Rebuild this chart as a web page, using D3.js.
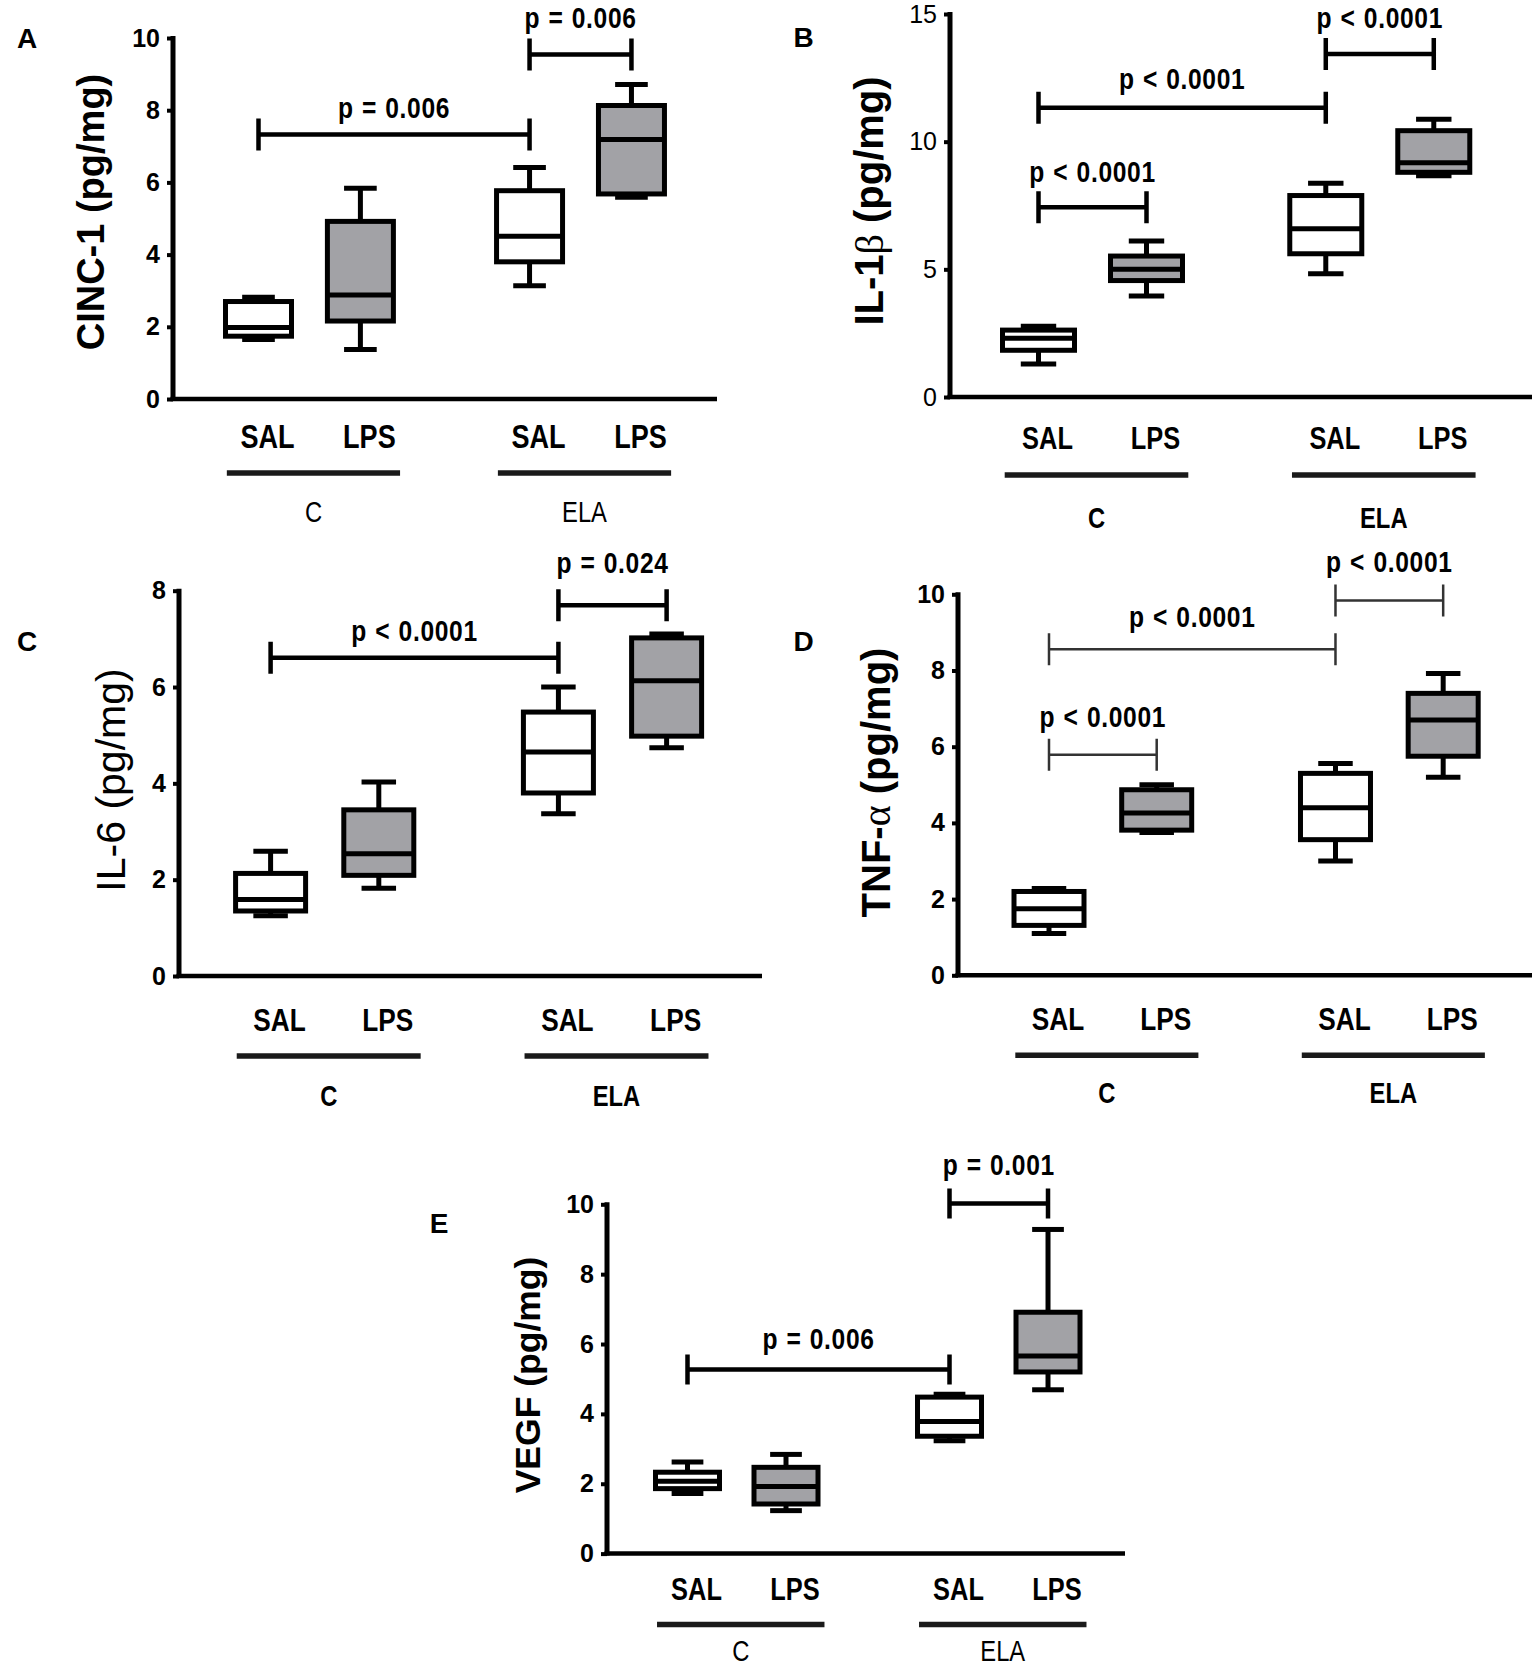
<!DOCTYPE html>
<html>
<head>
<meta charset="utf-8">
<script src="https://cdn.jsdelivr.net/npm/d3@7"></script>
<style>
  body { margin: 0; background: #fff; }
  svg { display: block; background: #fff; }
</style>
</head>
<body>
<div id="fig"></div>
<script>
// five-number summaries per group: [min, q1, median, q3, max]
var treatments = ["SAL", "LPS", "SAL", "LPS"];
var groupNames = ["C", "ELA"];

var cinc1 = [[1.65, 1.74, 1.98, 2.70, 2.82], [1.37, 2.16, 2.88, 4.92, 5.84],
             [3.14, 3.80, 4.51, 5.77, 6.41], [5.59, 5.68, 7.19, 8.13, 8.71]];
var il1b  = [[1.29, 1.83, 2.30, 2.62, 2.77], [3.96, 4.56, 5.00, 5.52, 6.11],
             [4.83, 5.61, 6.59, 7.89, 8.37], [8.67, 8.80, 9.17, 10.43, 10.88]];
var il6   = [[1.25, 1.35, 1.59, 2.13, 2.59], [1.82, 2.09, 2.54, 3.45, 4.03],
             [3.37, 3.80, 4.65, 5.48, 6.00], [4.74, 4.98, 6.13, 7.02, 7.10]];
var tnfa  = [[1.10, 1.31, 1.75, 2.20, 2.28], [3.75, 3.81, 4.26, 4.87, 5.00],
             [3.00, 3.56, 4.40, 5.30, 5.56], [5.20, 5.75, 6.70, 7.40, 7.92]];
var vegf  = [[1.72, 1.86, 2.07, 2.33, 2.62], [1.23, 1.42, 1.92, 2.47, 2.84],
             [3.23, 3.36, 3.78, 4.48, 4.56], [4.69, 5.20, 5.66, 6.91, 9.28]];

// significance brackets: group index from/to, bar level, label level (data units)
var cinc1P = [{from: 0, to: 2, y: 7.33, ty: 7.79, p: "p = 0.006"},
              {from: 2, to: 3, y: 9.54, ty: 10.28, p: "p = 0.006"}];
var il1bP  = [{from: 0, to: 1, y: 7.43, ty: 8.41, p: "p < 0.0001"},
              {from: 0, to: 2, y: 11.33, ty: 12.07, p: "p < 0.0001"},
              {from: 2, to: 3, y: 13.43, ty: 14.45, p: "p < 0.0001"}];
var il6P   = [{from: 0, to: 2, y: 6.61, ty: 6.95, p: "p < 0.0001"},
              {from: 2, to: 3, y: 7.70, ty: 8.37, p: "p = 0.024"}];
var tnfaP  = [{from: 0, to: 1, y: 5.79, ty: 6.51, p: "p < 0.0001"},
              {from: 0, to: 2, y: 8.56, ty: 9.14, p: "p < 0.0001"},
              {from: 2, to: 3, y: 9.84, ty: 10.59, p: "p < 0.0001"}];
var vegfP  = [{from: 0, to: 2, y: 5.27, ty: 5.87, p: "p = 0.006"},
              {from: 2, to: 3, y: 10.02, ty: 10.84, p: "p = 0.001"}];

var yMaxes = [10, 15, 8, 10, 10];
var ySteps = [2, 5, 2, 2, 2];
var letters = ["A", "B", "C", "D", "E"];
// title pieces: [text, greek?]
var titles = [
  [["CINC-1 (pg/mg)", false]],
  [["IL-1", false], ["\u03B2", true], [" (pg/mg)", false]],
  [["IL-6 (pg/mg)", false]],
  [["TNF-", false], ["\u03B1", true], [" (pg/mg)", false]],
  [["VEGF (pg/mg)", false]]
];

var W = 1535, H = 1668;
var grey = "#a2a2a6";
var arial = "'Liberation Sans', Arial, sans-serif";
var serif = "'Liberation Serif', 'DejaVu Serif', serif";
var squeeze = 0.82;   // condensed look of the original labels
var slots = [0, 1, 2.66, 3.66];

var svg = d3.select("#fig").append("svg")
  .attr("width", W).attr("height", H);

// layout of each panel in pixels
var layout = [
  {ax: 173, top: 38, bottom: 399, right: 717, c0: 258.5, pitch: 101.9, bw: 71,
   tx: 94, ty: 212, tSize: 38, tWeight: "bold", tickWeight: "bold", lx: 27, ly: 37.5,
   labY: 49, lineY: 74, grpY: 123, labSize: 33, grpSize: 29, grpWeight: "normal",
   pSize: 30, bStroke: 4.5, bColor: "#000", bHalf: 16},
  {ax: 950, top: 14, bottom: 397, right: 1532, c0: 1038.5, pitch: 108, bw: 77,
   tx: 872.5, ty: 201, tSize: 40, tWeight: "bold", tickWeight: "normal", lx: 803.5, ly: 36.5,
   labY: 52, lineY: 78, grpY: 131, labSize: 31, grpSize: 29, grpWeight: "bold",
   pSize: 30, bStroke: 4.5, bColor: "#000", bHalf: 16},
  {ax: 179, top: 590.7, bottom: 976, right: 762, c0: 270.6, pitch: 108.2, bw: 75,
   tx: 114, ty: 780, tSize: 41, tWeight: "normal", tickWeight: "bold", lx: 27, ly: 641,
   labY: 55, lineY: 80, grpY: 130, labSize: 32, grpSize: 29, grpWeight: "bold",
   pSize: 30, bStroke: 4.5, bColor: "#000", bHalf: 16},
  {ax: 958, top: 594.3, bottom: 975.3, right: 1532, c0: 1049, pitch: 107.7, bw: 75,
   tx: 880, ty: 782.5, tSize: 40, tWeight: "bold", tickWeight: "bold", lx: 803.5, ly: 641,
   labY: 55, lineY: 80, grpY: 128, labSize: 32, grpSize: 29, grpWeight: "bold",
   pSize: 30, bStroke: 2.5, bColor: "#333", bHalf: 16},
  {ax: 607, top: 1204.3, bottom: 1553.6, right: 1125, c0: 687.5, pitch: 98.5, bw: 69,
   tx: 531, ty: 1375, tSize: 35.5, tWeight: "bold", tickWeight: "bold", lx: 439, ly: 1222.6,
   labY: 46.5, lineY: 71, grpY: 107.5, labSize: 31, grpSize: 29, grpWeight: "normal",
   pSize: 30, bStroke: 4.5, bColor: "#000", bHalf: 15}
];

var stats = [cinc1, il1b, il6, tnfa, vegf];
var brackets = [cinc1P, il1bP, il6P, tnfaP, vegfP];

// condensed text: Liberation Sans squeezed horizontally like Arial Narrow
function narrowText(parent, x, y, size, weight, txt) {
  return parent.append("text")
    .attr("transform", "translate(" + x + "," + y + ") scale(" + squeeze + ",1)")
    .attr("text-anchor", "middle")
    .style("font-family", arial).style("font-weight", weight)
    .style("font-size", size + "px")
    .text(txt);
}

function drawPanel(k) {
  var L = layout[k];
  var data = stats[k];
  var g = svg.append("g");

  var y = d3.scaleLinear().domain([0, yMaxes[k]]).range([L.bottom, L.top]);
  var x = d3.scaleLinear().domain([0, 1]).range([L.c0, L.c0 + L.pitch]);
  function cx(i) { return x(slots[i]); }

  // y axis
  var yAxis = d3.axisLeft(y)
    .tickValues(d3.range(0, yMaxes[k] + 0.001, ySteps[k]))
    .tickSize(6).tickSizeOuter(0).tickPadding(7);
  var ag = g.append("g").attr("transform", "translate(" + L.ax + ",0)").call(yAxis);
  ag.select(".domain").attr("stroke", "#000").attr("stroke-width", 5)
    .attr("d", "M0," + (L.top - 2) + "V" + (L.bottom + 2));
  ag.selectAll(".tick line").attr("stroke", "#000").attr("stroke-width", 4);
  ag.selectAll(".tick text").attr("fill", "#000")
    .style("font-family", arial).style("font-size", "25px")
    .style("font-weight", L.tickWeight);

  // x axis baseline
  g.append("line")
    .attr("x1", L.ax - 2.5).attr("x2", L.right)
    .attr("y1", y(0)).attr("y2", y(0))
    .attr("stroke", "#000").attr("stroke-width", 4.5);

  // boxes
  var capW = L.bw * 0.46;
  var box = g.selectAll(".box").data(data).enter().append("g").attr("class", "box");
  box.each(function(d, i) {
    var b = d3.select(this), c = cx(i);
    b.append("line").attr("x1", c).attr("x2", c).attr("y1", y(d[4])).attr("y2", y(d[3]))
      .attr("stroke", "#000").attr("stroke-width", 5);
    b.append("line").attr("x1", c).attr("x2", c).attr("y1", y(d[1])).attr("y2", y(d[0]))
      .attr("stroke", "#000").attr("stroke-width", 5);
    b.append("line").attr("x1", c - capW / 2).attr("x2", c + capW / 2)
      .attr("y1", y(d[4])).attr("y2", y(d[4])).attr("stroke", "#000").attr("stroke-width", 5);
    b.append("line").attr("x1", c - capW / 2).attr("x2", c + capW / 2)
      .attr("y1", y(d[0])).attr("y2", y(d[0])).attr("stroke", "#000").attr("stroke-width", 5);
    b.append("rect")
      .attr("x", c - L.bw / 2 + 2.5).attr("width", L.bw - 5)
      .attr("y", y(d[3])).attr("height", y(d[1]) - y(d[3]))
      .attr("fill", i % 2 === 0 ? "#fff" : grey)
      .attr("stroke", "#000").attr("stroke-width", 5);
    b.append("line").attr("x1", c - L.bw / 2 + 2.5).attr("x2", c + L.bw / 2 - 2.5)
      .attr("y1", y(d[2])).attr("y2", y(d[2]))
      .attr("stroke", "#000").attr("stroke-width", 5);
  });

  // category labels
  treatments.forEach(function(name, i) {
    narrowText(g, cx(i) + 9, L.bottom + L.labY, L.labSize, "bold", name);
  });

  // group lines and names
  groupNames.forEach(function(name, j) {
    var mid = (cx(2 * j) + cx(2 * j + 1)) / 2 + 4;
    var half = L.pitch * 0.85;
    g.append("line")
      .attr("x1", mid - half).attr("x2", mid + half)
      .attr("y1", L.bottom + L.lineY).attr("y2", L.bottom + L.lineY)
      .attr("stroke", "#1a1a1a").attr("stroke-width", 5.5);
    narrowText(g, mid, L.bottom + L.grpY, L.grpSize, L.grpWeight, name);
  });

  // significance brackets
  brackets[k].forEach(function(br) {
    var x1 = cx(br.from), x2 = cx(br.to), yb = y(br.y);
    var path = d3.path();
    path.moveTo(x1, yb - L.bHalf); path.lineTo(x1, yb + L.bHalf);
    path.moveTo(x1, yb); path.lineTo(x2, yb);
    path.moveTo(x2, yb - L.bHalf); path.lineTo(x2, yb + L.bHalf);
    g.append("path").attr("d", path.toString())
      .attr("fill", "none").attr("stroke", L.bColor).attr("stroke-width", L.bStroke);
    narrowText(g, (x1 + x2) / 2, y(br.ty), L.pSize, "bold", br.p)
      .style("word-spacing", "1px").style("letter-spacing", "0.8px");
  });

  // y title
  var t = g.append("text")
    .attr("transform", "translate(" + (L.tx + 0.26 * L.tSize) + "," + L.ty + ") rotate(-90)")
    .attr("text-anchor", "middle")
    .style("font-family", arial).style("font-weight", L.tWeight)
    .style("font-size", L.tSize + "px");
  titles[k].forEach(function(part) {
    var s = t.append("tspan").text(part[0]);
    if (part[1]) s.style("font-family", serif).style("font-weight", "normal");
  });

  // panel letter
  g.append("text")
    .attr("x", L.lx).attr("y", L.ly)
    .attr("text-anchor", "middle").attr("dy", "0.36em")
    .style("font-family", arial).style("font-weight", "bold").style("font-size", "28px")
    .text(letters[k]);
}

for (var k = 0; k < 5; k++) drawPanel(k);
</script>
</body>
</html>
